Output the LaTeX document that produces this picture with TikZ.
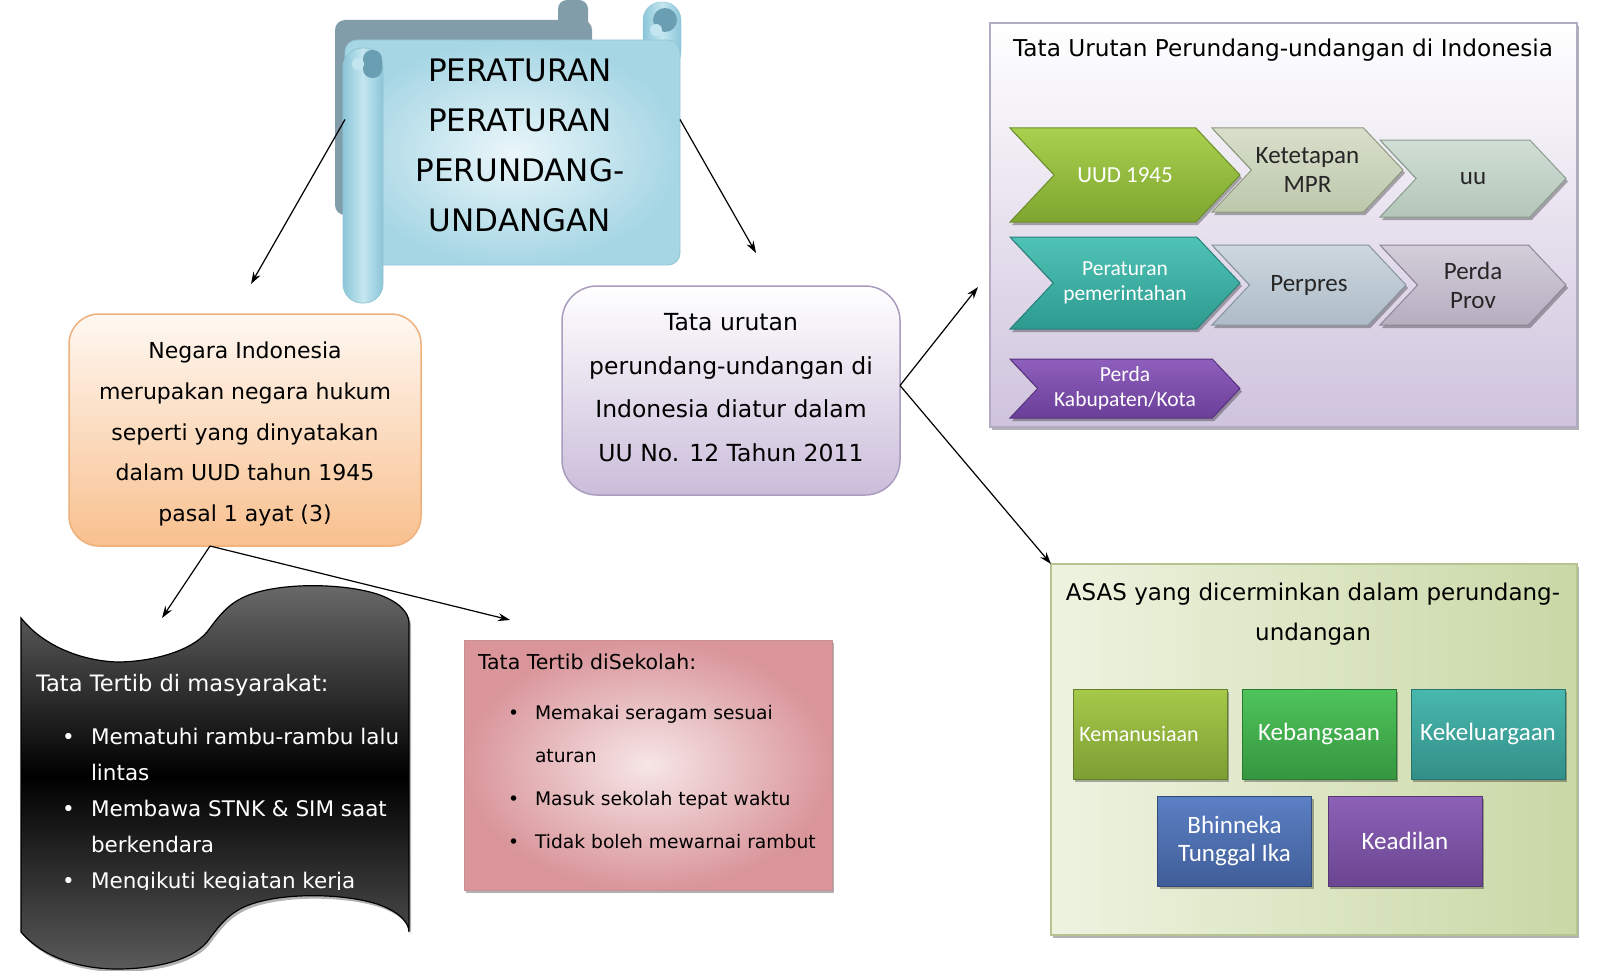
\documentclass[tikz,border=0pt]{standalone}
\usepackage{fontspec}
\setmainfont{DejaVu Sans}
\newfontfamily\calfont{Carlito}
\usetikzlibrary{arrows.meta,shadows}
\newcommand{\myfs}[2]{\fontsize{#1}{#2}\selectfont}
\definecolor{scrollback}{HTML}{809DA9}
\definecolor{rollA}{HTML}{8CC6D8}
\definecolor{rollB}{HTML}{C4E6F0}
\definecolor{curl}{HTML}{6A9FB3}
\definecolor{scrIn}{HTML}{EAF6FA}
\definecolor{scrOut}{HTML}{A6D6E4}
\definecolor{scrBd}{HTML}{92C6D6}
\definecolor{orTop}{HTML}{FFF8F2}
\definecolor{orBot}{HTML}{F8C08E}
\definecolor{orBd}{HTML}{EFB07C}
\definecolor{puBot}{HTML}{CBBDDA}
\definecolor{puBd}{HTML}{A99CBF}
\definecolor{tuBot}{HTML}{CFC3DD}
\definecolor{tuBd}{HTML}{B3AAC4}
\definecolor{asL}{HTML}{EEF3E0}
\definecolor{asR}{HTML}{C9D8A6}
\definecolor{asBd}{HTML}{B6C494}
\definecolor{pkIn}{HTML}{F6E6E7}
\definecolor{pkOut}{HTML}{D9959A}
\definecolor{pkBd}{HTML}{C98F93}
\definecolor{bk}{HTML}{6A6A6A}
\definecolor{cgA}{HTML}{A9D04E}\definecolor{cgB}{HTML}{7EA62F}\definecolor{cgD}{HTML}{6B8F2A}
\definecolor{ckA}{HTML}{D8DFCB}\definecolor{ckB}{HTML}{BCC7AC}\definecolor{ckD}{HTML}{8E9A80}
\definecolor{cuA}{HTML}{D1DED5}\definecolor{cuB}{HTML}{B3C6B9}\definecolor{cuD}{HTML}{8A9C90}
\definecolor{ctA}{HTML}{4FC3B6}\definecolor{ctB}{HTML}{2E9A8F}\definecolor{ctD}{HTML}{27807A}
\definecolor{cpA}{HTML}{CDD7DE}\definecolor{cpB}{HTML}{AEBCC7}\definecolor{cpD}{HTML}{86949F}
\definecolor{cvA}{HTML}{D3CDD9}\definecolor{cvB}{HTML}{B7AEC0}\definecolor{cvD}{HTML}{8E8598}
\definecolor{cmA}{HTML}{8E5FBC}\definecolor{cmB}{HTML}{6A3F98}\definecolor{cmD}{HTML}{57327E}
\definecolor{a1A}{HTML}{A6C94A}\definecolor{a1B}{HTML}{7D9E33}
\definecolor{a2A}{HTML}{4FC45B}\definecolor{a2B}{HTML}{35963F}
\definecolor{a3A}{HTML}{48B8AE}\definecolor{a3B}{HTML}{338F88}
\definecolor{a4A}{HTML}{5C80C4}\definecolor{a4B}{HTML}{3F5D98}
\definecolor{a5A}{HTML}{8C61B7}\definecolor{a5B}{HTML}{6A4590}
\newcommand{\chev}[8]{%
  \path[#6] (#2,#3) -- ({#4-0.47*(#5-#3)},#3) -- (#4,{(#3+#5)/2}) -- ({#4-0.47*(#5-#3)},#5) -- (#2,#5) -- ({#2+0.47*(#5-#3)},{(#3+#5)/2}) -- cycle;
  \node[#7] (#1) at ({(#2+#4)/2},{(#3+#5)/2}) {#8};}
\begin{document}
\begin{tikzpicture}[x=1pt,y=-1pt,
  every node/.style={inner sep=0pt, outer sep=0pt},
  arr/.style={draw=black, line width=1.2pt, -{Stealth[length=12pt,width=8pt]}},
  dshadow/.style={drop shadow={shadow xshift=2pt,shadow yshift=-3pt,opacity=0.3,fill=black}},
  chg/.style={top color=cgA, bottom color=cgB, draw=cgD, line width=1pt, dshadow},
  chk/.style={top color=ckA, bottom color=ckB, draw=ckD, line width=1pt, dshadow},
  chu/.style={top color=cuA, bottom color=cuB, draw=cuD, line width=1pt, dshadow},
  cht/.style={top color=ctA, bottom color=ctB, draw=ctD, line width=1pt, dshadow},
  chp/.style={top color=cpA, bottom color=cpB, draw=cpD, line width=1pt, dshadow},
  chv/.style={top color=cvA, bottom color=cvB, draw=cvD, line width=1pt, dshadow},
  chm/.style={top color=cmA, bottom color=cmB, draw=cmD, line width=1pt, dshadow},
  cwt/.style={font=\calfont\myfs{23}{26}, text=white, align=center},
  cwts/.style={font=\calfont\myfs{21.5}{25.5}, text=white, align=center},
  cbk/.style={font=\calfont\myfs{25}{29}, text=black!85, align=center},
  asbox/.style={minimum width=154pt, minimum height=90pt, line width=0.8pt, dshadow,
    font=\calfont\myfs{25}{28}, text=white, align=center},
  wline/.style={anchor=base west, text=white, font=\myfs{21.5}{26}},
  pline/.style={anchor=base west, text=black, font=\myfs{18.7}{22}}
]
\useasboundingbox (0,0) rectangle (1600,971);
\fill[white] (0,0) rectangle (1600,971);

% ---------- scroll ----------
\fill[scrollback, rounded corners=10pt] (335,20) rectangle (592,215);
\fill[scrollback, rounded corners=9pt] (558,0) rectangle (588,40);
\path[left color=rollA, right color=rollA, middle color=rollB, draw=scrBd, rounded corners=18pt] (643,2) rectangle (681,70);
\node[inner color=scrIn, outer color=scrOut, draw=scrBd, line width=0.8pt, rounded corners=12pt,
  minimum width=335pt, minimum height=225pt] (scroll) at (512.5,152.5) {};
\fill[curl] (665,20) circle (12);
\fill[rollB] (656,30) circle (6);
\path[left color=rollA, right color=rollA, middle color=rollB, draw=scrBd, line width=0.8pt, rounded corners=19pt] (343,48) rectangle (383,303);
\fill[curl, rounded corners=9pt] (363,50) rectangle (382,78);
\fill[rollB] (358,64) circle (6);
\node[font=\myfs{31}{50}, align=center] (scrolltext) at (520,145) {PERATURAN\\PERATURAN\\PERUNDANG-\\UNDANGAN};

% ---------- left rounded box ----------
\node[top color=orTop, bottom color=orBot, draw=orBd, line width=1.5pt, rounded corners=30pt,
  minimum width=352pt, minimum height=232pt] (neg) at (245,430) {};
\node[align=center, font=\myfs{22}{40.75}] (negt) at (245,434)
  {Negara Indonesia\\merupakan negara hukum\\seperti yang dinyatakan\\dalam UUD tahun 1945\\pasal 1 ayat (3)};

% ---------- middle rounded box ----------
\node[top color=white, bottom color=puBot, draw=puBd, line width=1.5pt, rounded corners=35pt,
  minimum width=338pt, minimum height=209pt] (tu) at (731,390.5) {};
\node[align=center, font=\myfs{23.5}{43.7}] (tut) at (731,387.5)
  {Tata urutan\\perundang-undangan di\\Indonesia diatur dalam\\UU No. 12 Tahun 2011};

% ---------- Tata urutan panel ----------
\node[top color=white, bottom color=tuBot, draw=tuBd, line width=1.5pt, dshadow,
  minimum width=587pt, minimum height=404pt] (tur) at (1283.5,225) {};
\node[font=\myfs{23.2}{26}] (turt) at (1283,50) {Tata Urutan Perundang-undangan di Indonesia};
\chev{c3}{1380}{140}{1566}{217}{chu}{cbk}{uu}
\chev{c2}{1212}{128}{1403}{212}{chk}{cbk}{Ketetapan\\MPR}
\chev{c1}{1010}{128}{1240}{222}{chg}{cwt}{UUD 1945}
\chev{c6}{1380}{245}{1566}{325}{chv}{cbk}{Perda\\Prov}
\chev{c5}{1212}{245}{1406}{325}{chp}{cbk}{Perpres}
\chev{c4}{1010}{237}{1240}{329}{cht}{cwts}{Peraturan\\pemerintahan}
\chev{c7}{1010}{359}{1240}{418}{chm}{cwts}{Perda\\Kabupaten/Kota}

% ---------- ASAS panel ----------
\node[left color=asL, right color=asR, draw=asBd, line width=1.5pt, dshadow,
  minimum width=526pt, minimum height=371pt] (asas) at (1314,749.5) {};
\node[font=\myfs{23}{40}, align=center] (asast) at (1313,614) {ASAS yang dicerminkan dalam perundang-\\undangan};
\node[asbox, top color=a1A, bottom color=a1B, draw=a1B!80!black, font=\calfont\myfs{22}{26}] (k1) at (1150,734) {\hspace*{-22pt}Kemanusiaan};
\node[asbox, top color=a2A, bottom color=a2B, draw=a2B!80!black] (k2) at (1319,734) {Kebangsaan};
\node[asbox, top color=a3A, bottom color=a3B, draw=a3B!80!black] (k3) at (1488,734) {Kekeluargaan};
\node[asbox, top color=a4A, bottom color=a4B, draw=a4B!80!black] (k4) at (1234.5,841) {Bhinneka\\Tunggal Ika};
\node[asbox, top color=a5A, bottom color=a5B, draw=a5B!80!black] (k5) at (1405,841) {Keadilan};

% ---------- pink box ----------
\node[inner color=pkIn, outer color=pkOut, draw=pkBd, line width=1pt, dshadow,
  minimum width=368pt, minimum height=250pt] (sek) at (648,765) {};
\node[pline, font=\myfs{20.5}{24}] (sekt) at (478,669) {Tata Tertib diSekolah:};
\node[pline] (sb1) at (508,719) {•};
\node[pline] (s1a) at (535,719) {Memakai seragam sesuai};
\node[pline] (s1b) at (535,762) {aturan};
\node[pline] (sb2) at (508,805) {•};
\node[pline] (s2) at (535,805) {Masuk sekolah tepat waktu};
\node[pline] (sb3) at (508,848) {•};
\node[pline] (s3) at (535,848) {Tidak boleh mewarnai rambut};

% ---------- black wave ----------
\path[top color=bk, bottom color=bk!85!black, middle color=black, draw=black, line width=1.2pt, dshadow]
  (21,618) .. controls (45,648) and (85,661) .. (117,662)
  .. controls (150,662) and (190,652) .. (207,632)
  .. controls (222,612) and (232,598) .. (262,591)
  .. controls (295,583) and (345,584) .. (377,594)
  .. controls (398,601) and (409,612) .. (409,623)
  -- (409,932)
  .. controls (409,922) and (398,911) .. (377,904)
  .. controls (345,894) and (295,893) .. (262,901)
  .. controls (232,908) and (222,922) .. (207,942)
  .. controls (190,962) and (150,969) .. (117,969)
  .. controls (85,969) and (45,960) .. (21,932)
  -- cycle;
\node[wline, font=\myfs{22.6}{26}] (mt) at (36,691) {Tata Tertib di masyarakat:};
\node[wline] (mb1) at (62,744) {•};
\node[wline] (m1a) at (91,744) {Mematuhi rambu-rambu lalu};
\node[wline] (m1b) at (91,780) {lintas};
\node[wline] (mb2) at (62,816) {•};
\node[wline] (m2a) at (91,816) {Membawa STNK \& SIM saat};
\node[wline] (m2b) at (91,852) {berkendara};
\node[wline] (mb3) at (62,888) {•};
\begin{scope}
\clip (80,850) rectangle (400,889.5);
\node[wline] (m3) at (91,888) {Mengikuti kegiatan kerja};
\end{scope}

% ---------- connectors ----------
\coordinate (e1) at (251,284);
\coordinate (e2) at (756,253);
\coordinate (e3) at (978,287);
\coordinate (e5) at (162,618);
\coordinate (e6) at (510,620);
\draw[arr] ([yshift=33pt]scroll.west) -- (e1);
\draw[arr] ([yshift=33pt]scroll.east) -- (e2);
\draw[arr] ([yshift=5pt]tu.east) -- (e3);
\draw[arr] ([yshift=5pt]tu.east) -- (asas.north west);
\draw[arr] ([xshift=-35pt]neg.south) -- (e5);
\draw[arr] ([xshift=-35pt]neg.south) -- (e6);
\end{tikzpicture}
\end{document}
